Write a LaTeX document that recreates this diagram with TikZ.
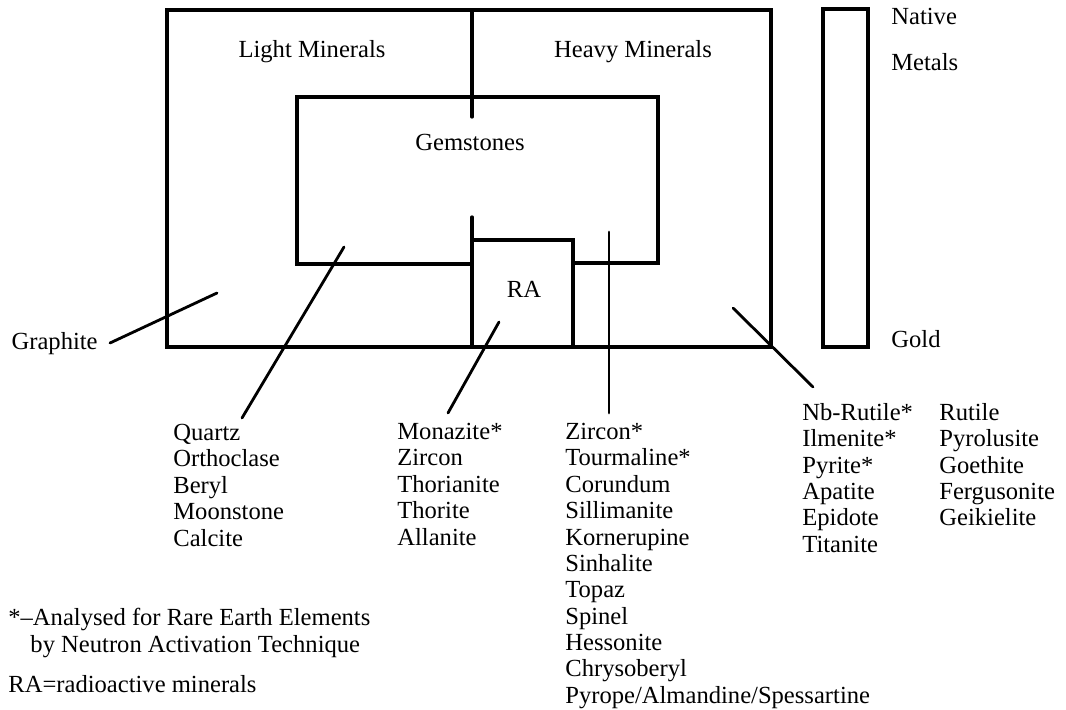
\documentclass[tikz,border=0pt]{standalone}
\usepackage{fontspec}
\setmainfont{Liberation Serif}

\begin{document}
\begin{tikzpicture}[x=0.02cm,y=-0.02cm,line cap=round,line join=miter,
    font=\rmfamily\fontsize{14}{15}\selectfont,
    box/.style={line width=1.9pt},
    leader/.style={line width=1.6pt},
    lbl/.style={inner sep=0pt},
    list/.style={align=left,anchor=north west,inner sep=0pt}]
  \useasboundingbox (0,0) rectangle (1066,710);
  % regions
  \draw[box] (167,10) rectangle (771,347);
  \draw[box] (472,10) -- (472,117);
  \draw[box] (472,264) -- (297,264) -- (297,97) -- (658,97) -- (658,263) -- (573,263);
  \draw[box] (472,217) -- (472,347);
  \draw[box] (472,240) -- (573,240) -- (573,347);
  \draw[box] (823,9) rectangle (868,347);
  % region titles
  \node[lbl,anchor=base] (light) at (312,57) {Light Minerals};
  \node[lbl,anchor=base] (heavy) at (633,57) {Heavy Minerals};
  \node[lbl,anchor=base] (gem) at (470,150) {Gemstones};
  \node[lbl,anchor=base] (ra) at (524,297) {RA};
  \node[lbl,anchor=base west] (native) at (891,25) {Native};
  \node[lbl,anchor=base west] (metals) at (891,71) {Metals};
  \node[lbl,anchor=base west] (gold) at (891,347) {Gold};
  % mineral lists
  \node[lbl,anchor=base east] (graphite) at (98,349) {Graphite};
  \node[list] (quartz) at (173,424) {Quartz\\Orthoclase\\Beryl\\Moonstone\\Calcite};
  \node[list] (monazite) at (397,423) {Monazite*\\Zircon\\Thorianite\\Thorite\\Allanite};
  \node[list] (zircon) at (565,423) {Zircon*\\Tourmaline*\\Corundum\\Sillimanite\\Kornerupine\\Sinhalite\\Topaz\\Spinel\\Hessonite\\Chrysoberyl\\Pyrope/Almandine/Spessartine};
  \node[list] (nbrutile) at (802,403) {Nb-Rutile*\\Ilmenite*\\Pyrite*\\Apatite\\Epidote\\Titanite};
  \node[list] (rutile) at (939,403) {Rutile\\Pyrolusite\\Goethite\\Fergusonite\\Geikielite};
  % notes
  \node[list] (note) at (8,608) {*--Analysed for Rare Earth Elements\\\hspace*{0.9em}by Neutron Activation Technique};
  \node[lbl,anchor=base west] (ranote) at (8,692) {RA=radioactive minerals};
  % leaders
  \coordinate (grIn) at (217,293);
  \coordinate (grOut) at ([shift={(12,-6)}]graphite.base east);
  \coordinate (qzIn) at (344,247);
  \coordinate (qzOut) at ([shift={(69,-6)}]quartz.north west);
  \coordinate (mzIn) at (499,322);
  \coordinate (mzOut) at ([shift={(51,-10)}]monazite.north west);
  \coordinate (zrIn) at (609,232);
  \coordinate (zrOut) at ([shift={(44,-10)}]zircon.north west);
  \coordinate (nbIn) at (733,308);
  \coordinate (nbOut) at ([shift={(11,-16)}]nbrutile.north west);
  \draw[leader] (grIn) -- (grOut);
  \draw[leader] (qzIn) -- (qzOut);
  \draw[leader] (mzIn) -- (mzOut);
  \draw[leader] (zrIn) -- (zrOut);
  \draw[leader] (nbIn) -- (nbOut);
\end{tikzpicture}
\end{document}
